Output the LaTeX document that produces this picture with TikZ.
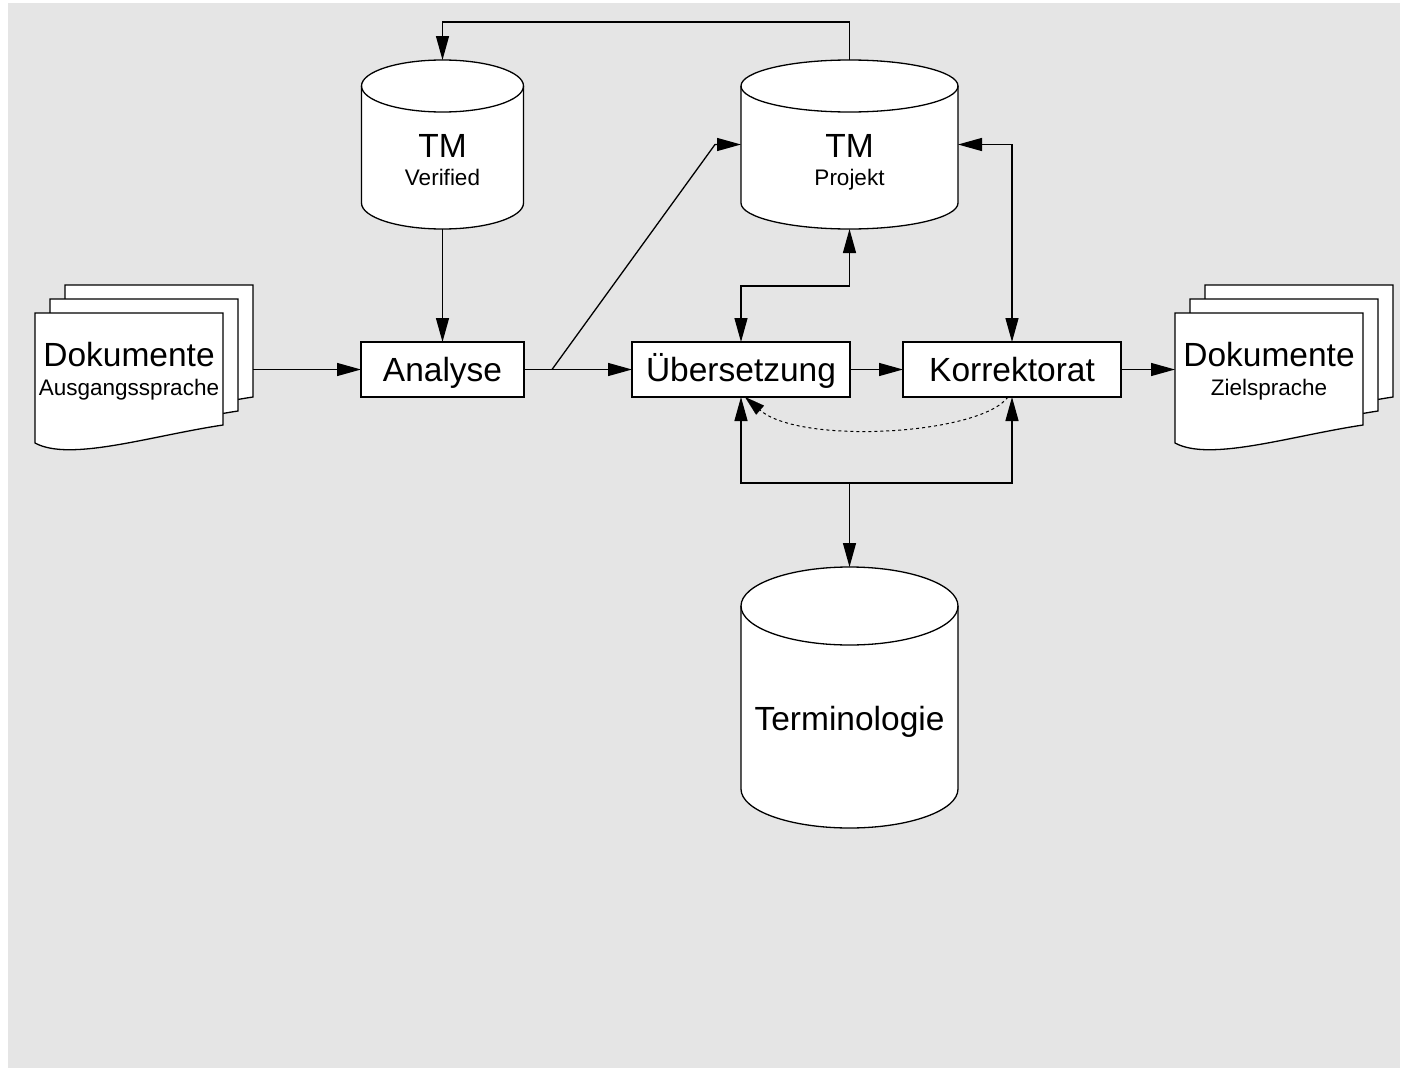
\documentclass[tikz,border=0pt]{standalone}
\usepackage{fontspec}
\setmainfont{Liberation Sans}
\usetikzlibrary{arrows.meta,positioning,calc}
\definecolor{bggrey}{RGB}{229,229,229}
\newcommand{\bigfont}{\fontsize{33.5}{38}\selectfont}
\newcommand{\smallfont}{\fontsize{22.5}{26}\selectfont}
\tikzstyle{arrow} = [line width=1.3pt,-{Triangle[length=24pt,width=13pt]}]
\tikzstyle{dblarrow} = [line width=1.3pt,{Triangle[length=24pt,width=13pt]}-{Triangle[length=24pt,width=13pt]}]
\tikzstyle{dotarrow} = [line width=1pt,dash pattern=on 3pt off 3pt,-{Triangle[length=20pt,width=12pt,line width=0.1pt]}]
\tikzstyle{process} = [rectangle, draw, fill=white, line width=1.3pt, minimum width=218pt, minimum height=55pt, inner sep=0pt, outer sep=0pt, text height=30pt, text depth=7pt, font=\bigfont]
\tikzstyle{database} = [rectangle, inner sep=0pt, outer sep=0pt, minimum width=217pt]
% one sheet of a document stack, #1/#2 = top left corner
\newcommand{\docpage}[2]{%
  \begin{scope}[shift={(#1,#2)}]
    \draw[line width=1.3pt, fill=white] (0,0) -- (188,0) -- (188,112)
      .. controls (115,123) and (35,149) .. (0,130) -- cycle;
  \end{scope}}
% cylinder round a database node, #1 = node, #2/#3 = radii of the ends
\newcommand{\dbdraw}[3]{%
  \draw[line width=1.3pt, fill=white] ([yshift=-#3]#1.north west) -- ([yshift=#3]#1.south west)
    arc[start angle=180, end angle=360, x radius=#2, y radius=#3]
    -- ([yshift=-#3]#1.north east)
    arc[start angle=0, end angle=180, x radius=#2, y radius=#3] -- cycle;
  \draw[line width=1.3pt] ([yshift=-#3]#1.north west)
    arc[start angle=180, end angle=360, x radius=#2, y radius=#3];}

\begin{document}
\begin{tikzpicture}[x=1pt, y=-1pt]
\useasboundingbox (0,0) rectangle (1401,1068);
\fill[bggrey] (8,3) rectangle (1400,1068);

% document stacks
\foreach \k in {2,1,0} {\docpage{35+15*\k}{313-14*\k}}
\foreach \k in {2,1,0} {\docpage{1175+15*\k}{313-14*\k}}
\node (srct) [anchor=base] at (129,366) {\bigfont Dokumente};
\node (srcs) [anchor=base] at (129,395) {\smallfont Ausgangssprache};
\node (tgtt) [anchor=base] at (1269,366) {\bigfont Dokumente};
\node (tgts) [anchor=base] at (1269,395) {\smallfont Zielsprache};
\coordinate (srcout) at (253,369.5);
\coordinate (tgtin) at (1175,369.5);

% process steps
\node (ana) [process, minimum width=163pt] at (442.5,369.5) {Analyse};
\node (ueb) [process, right=108pt of ana] {Übersetzung};
\node (korr) [process, right=53pt of ueb] {Korrektorat};

% databases
\node (ver) [database, minimum width=162pt, minimum height=169pt] at (442.5,144.5) {};
\node (proj) [database, minimum height=169pt] at (849.5,144.5) {};
\node (term) [database, minimum height=261pt] at (849.5,697.5) {};
\dbdraw{ver}{81pt}{26pt}
\dbdraw{proj}{108.5pt}{26pt}
\dbdraw{term}{108.5pt}{39pt}
\node (vert) [anchor=base] at (442.5,157) {\bigfont TM};
\node (vers) [anchor=base] at (442.5,185) {\smallfont Verified};
\node (projt) [anchor=base] at (849.5,157) {\bigfont TM};
\node (projs) [anchor=base] at (849.5,185) {\smallfont Projekt};
\node (termt) [anchor=base] at (849.5,730) {\bigfont Terminologie};

% connectors
\draw[arrow] (srcout) -- (ana.west);
\draw[arrow] (ver.south) -- (ana.north);
\draw[arrow] (proj.north) -- ++(0,-38) -| (ver.north);
\draw[arrow] (ana.east) -- (ueb.west);
\draw[arrow] ($(ana.east)+(28,0)$) -- ($(proj.west)+(-26,0)$) -- (proj.west);
\draw[arrow] (ueb.east) -- (korr.west);
\draw[arrow] (korr.east) -- (tgtin);
\draw[dblarrow] (ueb.north) -- ++(0,-56) -| (proj.south);
\draw[dblarrow] (proj.east) -| (korr.north);
\coordinate (hub) at (849.5,483);
\draw[arrow] (hub) -- (term.north);
\draw[arrow] (hub) -| (ueb.south);
\draw[arrow] (hub) -| (korr.south);
\draw[dotarrow] ([xshift=-4pt]korr.south) .. controls (980,435) and (800,445) .. ([xshift=4pt]ueb.south);
\end{tikzpicture}
\end{document}
